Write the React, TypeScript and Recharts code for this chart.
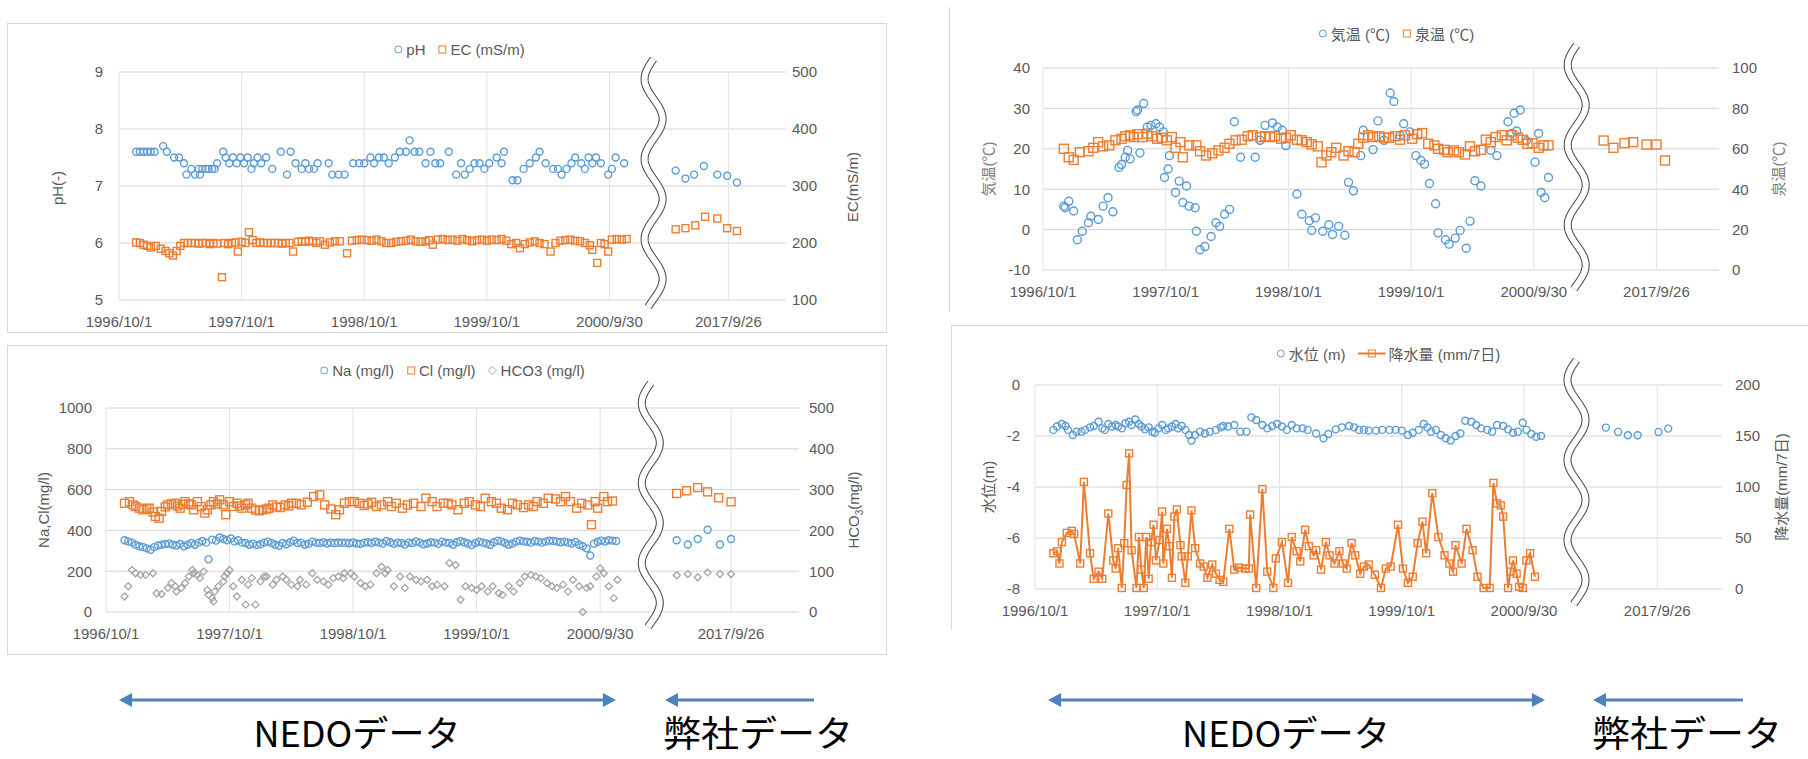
// 温泉モニタリング 4 パネル図 (NEDO データ + 弊社データ)
import { CartesianGrid, ReferenceLine, Scatter, ScatterChart, XAxis, YAxis } from 'recharts'

type Pt = [number, number] // [1996/10/1 からの経過年, 値]
type Shape = 'circle' | 'square' | 'diamond'

const BLUE = '#5b9bd5'
const ORANGE = '#ed7d31'
const GRAY = '#a5a5a5'
const TEXT = '#595959'
const FONT = '"Liberation Sans", "Noto Sans CJK JP", sans-serif'

// x 軸ラベル (2017 は軸の切れ目の後ろ)
const dateLabels = ['1996/10/1', '1997/10/1', '1998/10/1', '1999/10/1', '2000/9/30', '2017/9/26']

// ---- pH / EC ----
const phPts: Pt[] = [
  [0.14, 7.6], [0.17, 7.6], [0.2, 7.6], [0.23, 7.6], [0.26, 7.6], [0.29, 7.6], [0.36, 7.7], [0.39, 7.6], [0.45, 7.5],
  [0.49, 7.5], [0.53, 7.4], [0.55, 7.2], [0.59, 7.3], [0.62, 7.2], [0.65, 7.3], [0.66, 7.2], [0.68, 7.3], [0.71, 7.3],
  [0.73, 7.3], [0.76, 7.3], [0.78, 7.3], [0.8, 7.4], [0.85, 7.6], [0.87, 7.5], [0.9, 7.4], [0.93, 7.5], [0.96, 7.4],
  [0.99, 7.5], [1.02, 7.4], [1.05, 7.5], [1.08, 7.3], [1.1, 7.4], [1.13, 7.5], [1.16, 7.4], [1.2, 7.5], [1.25, 7.3],
  [1.32, 7.6], [1.37, 7.2], [1.4, 7.6], [1.44, 7.4], [1.49, 7.3], [1.52, 7.4], [1.55, 7.3], [1.59, 7.3], [1.62, 7.4],
  [1.71, 7.4], [1.74, 7.2], [1.79, 7.2], [1.84, 7.2], [1.91, 7.4], [1.96, 7.4], [2.0, 7.4], [2.05, 7.5], [2.08, 7.4],
  [2.12, 7.5], [2.16, 7.5], [2.2, 7.4], [2.25, 7.5], [2.29, 7.6], [2.34, 7.6], [2.37, 7.8], [2.41, 7.6], [2.45, 7.6],
  [2.5, 7.4], [2.54, 7.6], [2.58, 7.4], [2.62, 7.4], [2.69, 7.6], [2.75, 7.2], [2.79, 7.4], [2.82, 7.2], [2.86, 7.3],
  [2.9, 7.4], [2.94, 7.4], [2.98, 7.3], [3.02, 7.4], [3.08, 7.5], [3.12, 7.4], [3.14, 7.6], [3.21, 7.1], [3.25, 7.1],
  [3.3, 7.3], [3.35, 7.4], [3.4, 7.5], [3.43, 7.6], [3.48, 7.4], [3.54, 7.3], [3.58, 7.3], [3.61, 7.2], [3.65, 7.3],
  [3.69, 7.4], [3.72, 7.5], [3.77, 7.4], [3.8, 7.3], [3.83, 7.5], [3.86, 7.4], [3.89, 7.5], [3.93, 7.4], [3.99, 7.2],
  [4.02, 7.3], [4.05, 7.5], [4.12, 7.4],
  [4.54, 7.27], [4.62, 7.13], [4.69, 7.2], [4.77, 7.35], [4.88, 7.2], [4.96, 7.18], [5.04, 7.06],
]
const ecPts: Pt[] = [
  [0.14, 201], [0.17, 200], [0.2, 197], [0.23, 195], [0.26, 192], [0.3, 195], [0.34, 190], [0.38, 186], [0.41, 182],
  [0.44, 178], [0.47, 186], [0.5, 195], [0.53, 200], [0.56, 200], [0.59, 200], [0.62, 200], [0.65, 199], [0.68, 200],
  [0.71, 200], [0.74, 198], [0.77, 200], [0.8, 199], [0.84, 140], [0.86, 200], [0.89, 198], [0.92, 200], [0.95, 201],
  [0.97, 185], [1.0, 202], [1.03, 200], [1.06, 219], [1.09, 205], [1.12, 200], [1.15, 201], [1.18, 200], [1.21, 200],
  [1.24, 200], [1.27, 200], [1.3, 200], [1.33, 199], [1.36, 200], [1.39, 200], [1.42, 185], [1.46, 202], [1.49, 203],
  [1.52, 202], [1.55, 204], [1.58, 203], [1.61, 200], [1.64, 203], [1.68, 197], [1.72, 201], [1.76, 203], [1.8, 203],
  [1.86, 182], [1.9, 204], [1.94, 205], [1.98, 206], [2.02, 205], [2.06, 204], [2.1, 206], [2.14, 203], [2.18, 200],
  [2.22, 200], [2.26, 202], [2.3, 203], [2.34, 204], [2.38, 206], [2.42, 203], [2.46, 202], [2.5, 203], [2.53, 205],
  [2.56, 197], [2.6, 206], [2.64, 207], [2.68, 205], [2.72, 206], [2.76, 204], [2.8, 207], [2.84, 205], [2.88, 203],
  [2.92, 205], [2.96, 206], [3.0, 204], [3.04, 206], [3.08, 205], [3.12, 207], [3.16, 204], [3.2, 198], [3.24, 200],
  [3.27, 191], [3.31, 198], [3.35, 201], [3.39, 203], [3.43, 200], [3.47, 198], [3.52, 185], [3.56, 200], [3.6, 204],
  [3.64, 205], [3.68, 206], [3.72, 204], [3.76, 203], [3.8, 200], [3.84, 196], [3.86, 188], [3.9, 165], [3.93, 200],
  [3.96, 198], [3.99, 185], [4.02, 206], [4.06, 207], [4.1, 206], [4.14, 207],
  [4.54, 224], [4.62, 226], [4.7, 231], [4.78, 246], [4.88, 243], [4.96, 226], [5.04, 221],
]

// ---- 気温 / 泉温 ----
const airPts: Pt[] = [
  [0.17, 5.8], [0.18, 5.4], [0.21, 7.0], [0.25, 4.6], [0.28, -2.5], [0.32, -0.4], [0.37, 1.7], [0.39, 3.3], [0.45, 2.5],
  [0.49, 5.8], [0.53, 7.9], [0.57, 4.4], [0.62, 15.4], [0.64, 16.1], [0.67, 17.9], [0.69, 19.6], [0.71, 17.5],
  [0.76, 29.2], [0.77, 29.6], [0.79, 19], [0.82, 31.2], [0.85, 25.4], [0.88, 25.8], [0.92, 26.2], [0.95, 25.4],
  [0.98, 24.2], [0.99, 12.9], [1.02, 15], [1.03, 18.3], [1.08, 9.2], [1.11, 12], [1.14, 6.7], [1.17, 10.8], [1.19, 5.8],
  [1.24, 5.4], [1.25, -0.4], [1.28, -5], [1.32, -4.2], [1.37, -1.7], [1.41, 1.7], [1.44, 0.8], [1.48, 3.8], [1.52, 5],
  [1.56, 26.7], [1.61, 17.9], [1.73, 17.9], [1.77, 22.1], [1.81, 25.8], [1.87, 26.4], [1.91, 25.4], [1.95, 24.6],
  [1.98, 20.8], [2.07, 8.8], [2.11, 3.8], [2.17, 2.2], [2.19, -0.2], [2.22, 2.9], [2.28, -0.4], [2.33, 1.2],
  [2.36, -1.2], [2.41, 0.8], [2.46, -1.4], [2.49, 11.7], [2.53, 9.6], [2.59, 18.3], [2.61, 24.6], [2.69, 19.8],
  [2.73, 26.9], [2.78, 22.1], [2.83, 33.8], [2.86, 31.7], [2.91, 23.3], [2.94, 26.2], [2.99, 24.2], [3.04, 18.3],
  [3.08, 17.1], [3.11, 16.2], [3.15, 11.4], [3.2, 6.4], [3.22, -0.8], [3.28, -2.5], [3.31, -3.6], [3.36, -2.1],
  [3.4, -0.2], [3.45, -4.6], [3.48, 2.1], [3.52, 12.1], [3.57, 10.8], [3.65, 19.6], [3.7, 18.3], [3.79, 26.7],
  [3.82, 23.8], [3.84, 28.8], [3.86, 24.4], [3.89, 29.6], [3.94, 22], [4.01, 16.7], [4.04, 23.8], [4.06, 9.2],
  [4.09, 7.9], [4.12, 12.9],
]
const springPts: Pt[] = [
  [0.17, 60], [0.21, 55.8], [0.25, 54.5], [0.3, 58.3], [0.37, 58.8], [0.41, 60.5], [0.45, 63.3], [0.49, 61.2],
  [0.54, 61.7], [0.59, 64.2], [0.64, 65], [0.67, 66.2], [0.71, 66.7], [0.74, 65.8], [0.77, 67.2], [0.81, 65.8],
  [0.85, 67.5], [0.89, 66.2], [0.93, 65], [0.97, 65.5], [1.01, 64.2], [1.05, 65.8], [1.08, 60.5], [1.12, 63.3],
  [1.14, 55.8], [1.19, 61.7], [1.25, 61.7], [1.28, 58.8], [1.33, 56.7], [1.38, 57.8], [1.43, 59.2], [1.48, 60.5],
  [1.52, 62.5], [1.57, 64.2], [1.62, 64.5], [1.67, 66.2], [1.71, 66.7], [1.77, 65.8], [1.81, 66.2], [1.85, 65.8],
  [1.89, 66.2], [1.94, 65], [1.98, 65.5], [2.02, 66.7], [2.07, 64.5], [2.11, 64.2], [2.15, 63.3], [2.19, 62.2],
  [2.24, 61.2], [2.27, 53.3], [2.31, 56.7], [2.35, 58.3], [2.39, 60.5], [2.45, 56.7], [2.49, 58.8], [2.54, 58.3],
  [2.57, 62.5], [2.61, 65.5], [2.65, 66.7], [2.69, 65.8], [2.74, 66.2], [2.78, 65.5], [2.82, 65.5], [2.87, 66.2],
  [2.91, 64.5], [2.95, 66.7], [3.01, 65], [3.05, 67.2], [3.09, 67.8], [3.14, 62.5], [3.19, 61.7], [3.22, 60],
  [3.27, 59.5], [3.3, 58.3], [3.35, 59.2], [3.39, 58.3], [3.44, 57.2], [3.48, 61.2], [3.52, 58.8], [3.57, 59.5],
  [3.61, 64.5], [3.65, 63.3], [3.69, 65.8], [3.74, 66.7], [3.78, 64.2], [3.82, 66.7], [3.87, 65.5], [3.91, 64.5],
  [3.95, 62.5], [3.99, 62.8], [4.04, 60.5], [4.08, 61.7], [4.12, 61.7],
  [4.57, 64.1], [4.65, 60.5], [4.74, 62.8], [4.81, 63.3], [4.92, 62.1], [5.0, 62.1], [5.07, 54.2],
]

// ---- Na / Cl / HCO3 ----
const naPts: Pt[] = [
  [0.15, 352], [0.18, 346], [0.21, 340], [0.24, 330], [0.27, 322], [0.3, 318], [0.33, 312], [0.36, 305], [0.39, 318],
  [0.42, 326], [0.45, 330], [0.48, 333], [0.51, 335], [0.54, 330], [0.57, 326], [0.6, 333], [0.63, 322], [0.66, 330],
  [0.69, 338], [0.72, 330], [0.75, 340], [0.78, 348], [0.81, 340], [0.83, 258], [0.86, 355], [0.89, 350], [0.92, 365],
  [0.95, 358], [0.98, 352], [1.01, 360], [1.04, 346], [1.07, 352], [1.1, 340], [1.13, 338], [1.16, 330], [1.19, 335],
  [1.22, 328], [1.25, 332], [1.28, 340], [1.31, 345], [1.34, 338], [1.37, 330], [1.4, 325], [1.43, 338], [1.46, 332],
  [1.49, 342], [1.52, 350], [1.55, 338], [1.58, 340], [1.61, 330], [1.64, 335], [1.67, 345], [1.7, 340], [1.73, 338],
  [1.76, 342], [1.79, 336], [1.82, 340], [1.85, 338], [1.88, 341], [1.91, 339], [1.94, 340], [1.97, 337], [2.0, 341],
  [2.03, 336], [2.06, 334], [2.09, 340], [2.12, 342], [2.15, 338], [2.18, 344], [2.21, 340], [2.24, 336], [2.27, 348],
  [2.3, 342], [2.33, 334], [2.36, 340], [2.39, 338], [2.42, 331], [2.45, 340], [2.48, 338], [2.51, 346], [2.54, 340],
  [2.57, 332], [2.6, 336], [2.63, 342], [2.66, 340], [2.69, 334], [2.72, 345], [2.75, 340], [2.78, 338], [2.81, 330],
  [2.84, 342], [2.87, 348], [2.9, 342], [2.93, 336], [2.96, 328], [2.99, 338], [3.02, 344], [3.05, 340], [3.08, 336],
  [3.11, 330], [3.14, 342], [3.17, 350], [3.2, 346], [3.23, 338], [3.26, 330], [3.29, 336], [3.32, 345], [3.35, 350],
  [3.38, 346], [3.41, 344], [3.44, 340], [3.47, 348], [3.5, 345], [3.53, 340], [3.56, 345], [3.59, 350], [3.62, 348],
  [3.65, 346], [3.68, 342], [3.71, 345], [3.74, 340], [3.77, 336], [3.8, 343], [3.83, 330], [3.86, 322], [3.89, 312],
  [3.92, 277], [3.95, 335], [3.98, 344], [4.01, 350], [4.04, 345], [4.07, 352], [4.1, 350], [4.13, 348],
  [4.62, 352], [4.71, 331], [4.79, 358], [4.87, 403], [4.97, 331], [5.06, 358],
]
const clPts: Pt[] = [
  [0.15, 533], [0.19, 541], [0.22, 525], [0.24, 517], [0.27, 509], [0.3, 501], [0.33, 505], [0.35, 509], [0.38, 490],
  [0.4, 468], [0.43, 460], [0.45, 493], [0.48, 515], [0.5, 525], [0.53, 530], [0.56, 533], [0.58, 520], [0.6, 509],
  [0.62, 528], [0.64, 541], [0.67, 530], [0.69, 525], [0.71, 501], [0.74, 541], [0.77, 517], [0.8, 485], [0.82, 501],
  [0.85, 525], [0.87, 541], [0.9, 530], [0.92, 550], [0.95, 525], [0.97, 477], [1.0, 541], [1.03, 517], [1.06, 533],
  [1.08, 520], [1.1, 509], [1.13, 525], [1.15, 533], [1.18, 509], [1.21, 500], [1.24, 496], [1.27, 501], [1.3, 505],
  [1.32, 509], [1.35, 525], [1.38, 515], [1.41, 512], [1.45, 525], [1.48, 520], [1.5, 533], [1.54, 533], [1.58, 525],
  [1.63, 538], [1.68, 566], [1.73, 574], [1.77, 525], [1.82, 505], [1.86, 477], [1.89, 501], [1.93, 533], [1.97, 541],
  [2.01, 541], [2.05, 533], [2.09, 522], [2.12, 530], [2.15, 538], [2.19, 517], [2.23, 525], [2.28, 541], [2.31, 517],
  [2.35, 533], [2.4, 509], [2.44, 525], [2.49, 533], [2.55, 517], [2.59, 558], [2.64, 541], [2.68, 517], [2.73, 533],
  [2.77, 533], [2.8, 525], [2.85, 501], [2.9, 533], [2.94, 541], [2.99, 525], [3.03, 517], [3.07, 558], [3.12, 541],
  [3.16, 533], [3.2, 509], [3.25, 501], [3.29, 533], [3.33, 525], [3.38, 512], [3.42, 525], [3.46, 517], [3.49, 541],
  [3.54, 533], [3.58, 558], [3.64, 554], [3.68, 541], [3.72, 566], [3.76, 541], [3.81, 509], [3.85, 533], [3.9, 525],
  [3.93, 428], [3.96, 541], [3.98, 509], [4.03, 566], [4.06, 541], [4.1, 544],
  [4.62, 581], [4.7, 594], [4.79, 610], [4.87, 589], [4.96, 560], [5.06, 540],
]
const hco3Pts: Pt[] = [
  [0.15, 38], [0.18, 63], [0.21, 103], [0.24, 95], [0.28, 91], [0.32, 91], [0.38, 95], [0.41, 46], [0.45, 44],
  [0.5, 59], [0.53, 71], [0.56, 63], [0.57, 50], [0.61, 59], [0.64, 71], [0.67, 87], [0.7, 103], [0.71, 95], [0.74, 91],
  [0.76, 83], [0.79, 99], [0.82, 54], [0.83, 42], [0.86, 34], [0.87, 26], [0.88, 50], [0.91, 63], [0.95, 75], [0.96, 87],
  [0.98, 95], [1.0, 103], [1.03, 63], [1.06, 38], [1.1, 79], [1.13, 18], [1.15, 67], [1.18, 83], [1.21, 18], [1.25, 75],
  [1.28, 87], [1.3, 87], [1.35, 67], [1.38, 79], [1.43, 87], [1.46, 79], [1.5, 67], [1.55, 63], [1.57, 79], [1.62, 67],
  [1.67, 95], [1.71, 79], [1.76, 75], [1.8, 67], [1.84, 83], [1.88, 87], [1.92, 83], [1.93, 95], [1.98, 95], [2.01, 87],
  [2.06, 71], [2.1, 63], [2.14, 67], [2.19, 95], [2.23, 111], [2.26, 95], [2.28, 103], [2.33, 63], [2.38, 87],
  [2.42, 59], [2.46, 87], [2.51, 79], [2.55, 75], [2.6, 79], [2.64, 63], [2.68, 67], [2.74, 63], [2.78, 120],
  [2.83, 115], [2.87, 30], [2.91, 63], [2.96, 59], [3.0, 54], [3.04, 63], [3.09, 50], [3.13, 63], [3.18, 46],
  [3.21, 42], [3.26, 63], [3.3, 50], [3.35, 71], [3.39, 87], [3.44, 91], [3.48, 87], [3.52, 83], [3.57, 71], [3.61, 63],
  [3.65, 59], [3.7, 67], [3.74, 50], [3.78, 79], [3.83, 63], [3.86, 0], [3.89, 59], [3.92, 63], [3.97, 87], [4.0, 107],
  [4.03, 95], [4.07, 63], [4.11, 34], [4.14, 79],
  [4.62, 90], [4.71, 93], [4.79, 85], [4.87, 97], [4.97, 93], [5.06, 93],
]

// ---- 水位 / 降水量 ----
const levelPts: Pt[] = [
  [0.15, -1.76], [0.18, -1.63], [0.22, -1.53], [0.25, -1.61], [0.27, -1.76], [0.31, -1.96], [0.34, -1.83],
  [0.38, -1.83], [0.41, -1.76], [0.45, -1.66], [0.48, -1.61], [0.52, -1.44], [0.55, -1.7], [0.57, -1.76],
  [0.6, -1.53], [0.63, -1.63], [0.66, -1.57], [0.68, -1.63], [0.71, -1.7], [0.74, -1.5], [0.77, -1.44], [0.79, -1.57],
  [0.82, -1.35], [0.85, -1.53], [0.87, -1.63], [0.9, -1.74], [0.93, -1.66], [0.96, -1.83], [0.98, -1.87], [1.01, -1.7],
  [1.04, -1.57], [1.07, -1.76], [1.09, -1.7], [1.12, -1.63], [1.15, -1.53], [1.17, -1.7], [1.2, -1.61], [1.23, -1.76],
  [1.26, -1.96], [1.28, -2.18], [1.31, -1.96], [1.35, -1.83], [1.39, -1.9], [1.43, -1.83], [1.48, -1.76],
  [1.52, -1.66], [1.54, -1.61], [1.58, -1.63], [1.63, -1.57], [1.68, -1.83], [1.73, -1.83], [1.77, -1.27],
  [1.81, -1.37], [1.86, -1.57], [1.9, -1.7], [1.94, -1.61], [1.98, -1.53], [2.02, -1.63], [2.06, -1.76],
  [2.1, -1.57], [2.14, -1.7], [2.19, -1.7], [2.23, -1.76], [2.3, -1.9], [2.36, -2.09], [2.4, -1.92], [2.46, -1.74],
  [2.51, -1.66], [2.57, -1.61], [2.61, -1.66], [2.65, -1.76], [2.69, -1.76], [2.73, -1.79], [2.79, -1.79],
  [2.84, -1.76], [2.9, -1.76], [2.95, -1.76], [3.0, -1.79], [3.05, -1.96], [3.09, -1.87], [3.14, -1.76],
  [3.18, -1.53], [3.21, -1.66], [3.24, -1.83], [3.28, -1.76], [3.32, -1.96], [3.36, -2.09], [3.4, -2.18], [3.44, -2.0],
  [3.48, -1.9], [3.52, -1.4], [3.57, -1.44], [3.61, -1.57], [3.65, -1.7], [3.7, -1.76], [3.74, -1.83], [3.78, -1.57],
  [3.83, -1.61], [3.87, -1.74], [3.91, -1.87], [3.95, -1.83], [3.99, -1.48], [4.02, -1.76], [4.06, -1.92],
  [4.1, -2.03], [4.14, -2.0],
  [4.67, -1.67], [4.77, -1.84], [4.85, -1.97], [4.93, -1.97], [5.1, -1.84], [5.18, -1.71],
]
const rainPts: Pt[] = [
  [0.15, 35], [0.18, 37], [0.2, 25], [0.22, 46], [0.26, 55], [0.3, 57], [0.32, 54], [0.37, 25], [0.4, 105], [0.45, 35],
  [0.48, 10], [0.52, 17], [0.55, 10], [0.6, 74], [0.64, 28], [0.66, 20], [0.68, 40], [0.71, 1], [0.73, 45], [0.75, 102],
  [0.77, 133], [0.79, 38], [0.83, 1], [0.85, 51], [0.87, 19], [0.89, 1], [0.91, 51], [0.93, 10], [0.95, 46], [0.97, 63],
  [0.99, 28], [1.02, 48], [1.04, 76], [1.05, 25], [1.08, 59], [1.1, 42], [1.12, 11], [1.14, 71], [1.16, 78], [1.19, 43],
  [1.2, 32], [1.23, 6], [1.25, 32], [1.28, 77], [1.31, 40], [1.35, 25], [1.38, 22], [1.41, 11], [1.45, 24], [1.48, 15],
  [1.51, 9], [1.54, 7], [1.59, 59], [1.63, 19], [1.67, 21], [1.72, 20], [1.75, 20], [1.76, 73], [1.81, 1], [1.86, 98],
  [1.9, 17], [1.95, 1], [1.97, 30], [2.02, 46], [2.07, 6], [2.1, 51], [2.14, 37], [2.17, 27], [2.21, 58], [2.24, 42],
  [2.28, 33], [2.3, 38], [2.34, 19], [2.38, 46], [2.41, 33], [2.45, 25], [2.49, 37], [2.52, 25], [2.55, 20], [2.59, 45],
  [2.62, 33], [2.66, 15], [2.69, 22], [2.73, 24], [2.78, 14], [2.83, 1], [2.87, 20], [2.91, 22], [2.97, 63], [3.01, 20],
  [3.05, 6], [3.09, 12], [3.13, 45], [3.17, 66], [3.2, 35], [3.25, 94], [3.3, 51], [3.35, 33], [3.39, 25], [3.42, 17],
  [3.44, 43], [3.49, 25], [3.53, 59], [3.58, 38], [3.62, 12], [3.67, 1], [3.72, 1], [3.75, 104], [3.78, 84], [3.81, 82],
  [3.83, 71], [3.87, 1], [3.89, 17], [3.91, 28], [3.94, 15], [3.96, 2], [3.99, 1], [4.02, 28], [4.05, 35], [4.09, 12],
]

// ---------------------------------------------------------------------------

// 中抜きマーカー (Excel の枠線のみマーカー)
function marker(shape: Shape, color: string, r: number) {
  return (p: any) => {
    const { cx, cy } = p
    if (cx == null || cy == null) return <g />
    if (shape === 'circle') return <circle cx={cx} cy={cy} r={r} fill="none" stroke={color} strokeWidth={1.4} />
    if (shape === 'square')
      return <rect x={cx - r} y={cy - r} width={2 * r} height={2 * r} fill="none" stroke={color} strokeWidth={1.4} />
    return (
      <path d={`M${cx},${cy - r}L${cx + r},${cy}L${cx},${cy + r}L${cx - r},${cy}Z`} fill="none" stroke={color} strokeWidth={1.3} />
    )
  }
}

// 軸の切れ目 (白抜きの波線)
function wavyBreak(up: number, down: number) {
  return (p: any) => {
    const x = p.x1
    const top = Math.min(p.y1, p.y2) - up
    const bottom = Math.max(p.y1, p.y2) + down
    const pts: string[] = []
    for (let y = top; y <= bottom; y += 2) pts.push(`${(x - 9 * Math.sin(((y - top) / 40) * Math.PI)).toFixed(1)},${y}`)
    const d = 'M' + pts.join('L')
    return (
      <g>
        <path d={d} fill="none" stroke="#444" strokeWidth={8} />
        <path d={d} fill="none" stroke="#fff" strokeWidth={6} />
      </g>
    )
  }
}

interface Series {
  pts: Pt[]
  axis: 'l' | 'r'
  shape: Shape
  color: string
  r: number
  line?: boolean
}

interface PanelProps {
  left: number
  top: number
  width: number
  height: number
  plotTop: number
  leftW: number
  rightW: number
  bottomH: number
  xMax: number
  xTicks: number[]
  lDomain: [number, number]
  lTicks: number[]
  lGap: number
  rDomain: [number, number]
  rTicks: number[]
  rGap: number
  series: Series[]
  breakX: number
  breakUp: number
  breakDown: number
}

const tickStyle = { fill: TEXT, fontSize: 15, fontFamily: FONT }

function Panel(p: PanelProps) {
  return (
    <div style={{ position: 'absolute', left: p.left, top: p.top }}>
      <ScatterChart width={p.width} height={p.height} margin={{ top: p.plotTop, right: 0, bottom: 0, left: 0 }}>
        <CartesianGrid yAxisId="l" vertical={false} stroke="#d6d6d6" syncWithTicks />
        <CartesianGrid yAxisId="l" horizontal={false} stroke="#e2e2e2" syncWithTicks />
        <XAxis
          type="number"
          dataKey="x"
          domain={[0, p.xMax]}
          ticks={p.xTicks}
          interval={0}
          tickFormatter={(v: number) => dateLabels[p.xTicks.indexOf(v)]}
          height={p.bottomH}
          axisLine={false}
          tickLine={false}
          tickSize={0}
          tickMargin={16}
          tick={tickStyle}
        />
        <YAxis
          yAxisId="l"
          type="number"
          dataKey="y"
          domain={p.lDomain}
          ticks={p.lTicks}
          interval={0}
          width={p.leftW}
          axisLine={false}
          tickLine={false}
          tickSize={0}
          tickMargin={p.lGap}
          tick={tickStyle}
        />
        <YAxis
          yAxisId="r"
          orientation="right"
          type="number"
          dataKey="y"
          domain={p.rDomain}
          ticks={p.rTicks}
          interval={0}
          width={p.rightW}
          axisLine={false}
          tickLine={false}
          tickSize={0}
          tickMargin={p.rGap}
          tick={tickStyle}
        />
        {p.series.map((s, i) => (
          <Scatter
            key={i}
            yAxisId={s.axis}
            data={s.pts.map(([x, y]) => ({ x, y }))}
            fill={s.color}
            shape={marker(s.shape, s.color, s.r)}
            line={s.line ? { stroke: s.color, strokeWidth: 2 } : false}
            isAnimationActive={false}
          />
        ))}
        <ReferenceLine yAxisId="l" x={p.breakX} shape={wavyBreak(p.breakUp, p.breakDown)} />
      </ScatterChart>
    </div>
  )
}

interface LegendItem {
  label: string
  shape: Shape
  color: string
  line?: boolean
}

function LegendRow({ cx, cy, items }: { cx: number; cy: number; items: LegendItem[] }) {
  return (
    <div
      style={{
        position: 'absolute', left: cx, top: cy, transform: 'translate(-50%, -50%)', display: 'flex',
        alignItems: 'center', gap: 12, whiteSpace: 'nowrap', fontSize: 15, color: TEXT,
      }}
    >
      {items.map((it, i) => {
        const w = it.line ? 28 : 10
        const m = w / 2
        return (
          <span key={i} style={{ display: 'flex', alignItems: 'center', gap: 3 }}>
            <svg width={w} height={10}>
              {it.line && <line x1={0} y1={5} x2={w} y2={5} stroke={it.color} strokeWidth={2} />}
              {it.shape === 'circle' && <circle cx={m} cy={5} r={3.5} fill="none" stroke={it.color} />}
              {it.shape === 'square' && <rect x={m - 3.5} y={1.5} width={7} height={7} fill="none" stroke={it.color} />}
              {it.shape === 'diamond' && <path d={`M${m},1L${m + 4},5L${m},9L${m - 4},5Z`} fill="none" stroke={it.color} />}
            </svg>
            {it.label}
          </span>
        )
      })}
    </div>
  )
}

function AxisTitle({ cx, cy, children, color = TEXT }: { cx: number; cy: number; children: any; color?: string }) {
  return (
    <div
      style={{
        position: 'absolute', left: cx, top: cy, transform: 'translate(-50%, -50%) rotate(-90deg)',
        whiteSpace: 'nowrap', fontSize: 15, color,
      }}
    >
      {children}
    </div>
  )
}

const frame = { position: 'absolute' as const, border: '1px solid #d9d9d9', boxSizing: 'border-box' as const }

function Arrow({ x1, x2, y, both }: { x1: number; x2: number; y: number; both: boolean }) {
  const c = '#4f81bd'
  return (
    <g>
      <line x1={x1 + 10} y1={y} x2={both ? x2 - 10 : x2} y2={y} stroke={c} strokeWidth={3} />
      <path d={`M${x1},${y}L${x1 + 13},${y - 7}L${x1 + 13},${y + 7}Z`} fill={c} />
      {both && <path d={`M${x2},${y}L${x2 - 13},${y - 7}L${x2 - 13},${y + 7}Z`} fill={c} />}
    </g>
  )
}

export default function App() {
  return (
    <div
      style={{ position: 'absolute', left: 0, top: 0, width: 1808, height: 759, background: '#fff', fontFamily: FONT, overflow: 'hidden' }}
    >
      {/* パネル枠 */}
      <div style={{ ...frame, left: 7, top: 23, width: 880, height: 310 }} />
      <div style={{ ...frame, left: 7, top: 345, width: 880, height: 310 }} />
      <div style={{ position: 'absolute', left: 949, top: 7, width: 1, height: 305, background: '#d9d9d9' }} />
      <div style={{ position: 'absolute', left: 951, top: 325, width: 857, height: 1, background: '#d9d9d9' }} />
      <div style={{ position: 'absolute', left: 951, top: 325, width: 1, height: 305, background: '#d9d9d9' }} />

      {/* pH / EC */}
      <Panel
        left={7} top={23} width={880} height={310} plotTop={49} leftW={112} rightW={101} bottomH={33}
        xMax={5.44} xTicks={[0, 1, 2, 3, 4, 4.97]}
        lDomain={[5, 9]} lTicks={[5, 6, 7, 8, 9]} lGap={16}
        rDomain={[100, 500]} rTicks={[100, 200, 300, 400, 500]} rGap={6}
        series={[
          { pts: phPts, axis: 'l', shape: 'circle', color: BLUE, r: 3.5 },
          { pts: ecPts, axis: 'r', shape: 'square', color: ORANGE, r: 3.5 },
        ]}
        breakX={4.36} breakUp={13} breakDown={7}
      />
      <LegendRow cx={459} cy={49} items={[
        { label: 'pH', shape: 'circle', color: BLUE },
        { label: 'EC (mS/m)', shape: 'square', color: ORANGE },
      ]} />
      <AxisTitle cx={57} cy={188}>pH(-)</AxisTitle>
      <AxisTitle cx={852} cy={187}>EC(mS/m)</AxisTitle>

      {/* 気温 / 泉温 */}
      <Panel
        left={949} top={0} width={859} height={330} plotTop={68} leftW={94} rightW={89} bottomH={60}
        xMax={5.51} xTicks={[0, 1, 2, 3, 4, 5]}
        lDomain={[-10, 40]} lTicks={[-10, 0, 10, 20, 30, 40]} lGap={13}
        rDomain={[0, 100]} rTicks={[0, 20, 40, 60, 80, 100]} rGap={13}
        series={[
          { pts: airPts, axis: 'l', shape: 'circle', color: BLUE, r: 4 },
          { pts: springPts, axis: 'r', shape: 'square', color: ORANGE, r: 4.5 },
        ]}
        breakX={4.35} breakUp={23} breakDown={20}
      />
      <LegendRow cx={1396} cy={33} items={[
        { label: '気温 (℃)', shape: 'circle', color: BLUE },
        { label: '泉温 (℃)', shape: 'square', color: ORANGE },
      ]} />
      <AxisTitle cx={987} cy={169} color="#808080">気温(℃)</AxisTitle>
      <AxisTitle cx={1777} cy={169} color="#808080">泉温(℃)</AxisTitle>

      {/* Na / Cl / HCO3 */}
      <Panel
        left={7} top={345} width={880} height={310} plotTop={63} leftW={99} rightW={88} bottomH={43}
        xMax={5.61} xTicks={[0, 1, 2, 3, 4, 5.06]}
        lDomain={[0, 1000]} lTicks={[0, 200, 400, 600, 800, 1000]} lGap={14}
        rDomain={[0, 500]} rTicks={[0, 100, 200, 300, 400, 500]} rGap={10}
        series={[
          { pts: hco3Pts, axis: 'r', shape: 'diamond', color: GRAY, r: 3.5 },
          { pts: naPts, axis: 'l', shape: 'circle', color: BLUE, r: 3.5 },
          { pts: clPts, axis: 'l', shape: 'square', color: ORANGE, r: 4 },
        ]}
        breakX={4.41} breakUp={25} breakDown={15}
      />
      <LegendRow cx={452} cy={370} items={[
        { label: 'Na (mg/l)', shape: 'circle', color: BLUE },
        { label: 'Cl (mg/l)', shape: 'square', color: ORANGE },
        { label: 'HCO3 (mg/l)', shape: 'diamond', color: GRAY },
      ]} />
      <AxisTitle cx={43} cy={510}>Na,Cl(mg/l)</AxisTitle>
      <AxisTitle cx={855} cy={510}>
        HCO<span style={{ fontSize: 10, verticalAlign: 'sub' }}>3</span>(mg/l)
      </AxisTitle>

      {/* 水位 / 降水量 */}
      <Panel
        left={951} top={325} width={857} height={310} plotTop={60} leftW={84} rightW={86} bottomH={46}
        xMax={5.62} xTicks={[0, 1, 2, 3, 4, 5.09]}
        lDomain={[-8, 0]} lTicks={[-8, -6, -4, -2, 0]} lGap={15}
        rDomain={[0, 200]} rTicks={[0, 50, 100, 150, 200]} rGap={13}
        series={[
          { pts: levelPts, axis: 'l', shape: 'circle', color: BLUE, r: 3.5 },
          { pts: rainPts, axis: 'r', shape: 'square', color: ORANGE, r: 3.5, line: true },
        ]}
        breakX={4.43} breakUp={25} breakDown={16}
      />
      <LegendRow cx={1388} cy={353} items={[
        { label: '水位 (m)', shape: 'circle', color: BLUE },
        { label: '降水量 (mm/7日)', shape: 'square', color: ORANGE, line: true },
      ]} />
      <AxisTitle cx={987} cy={487}>水位(m)</AxisTitle>
      <AxisTitle cx={1780} cy={487}>降水量(mm/7日)</AxisTitle>

      {/* データ区分の注記 */}
      <svg width={1808} height={759} style={{ position: 'absolute', left: 0, top: 0, pointerEvents: 'none' }}>
        <Arrow x1={119} x2={616} y={700} both />
        <Arrow x1={665} x2={814} y={700} both={false} />
        <Arrow x1={1048} x2={1545} y={700} both />
        <Arrow x1={1593} x2={1743} y={700} both={false} />
        <g fontFamily='"Noto Sans CJK JP", sans-serif' fontSize={36} fill="#000" textAnchor="middle">
          <text x={357} y={747} textLength={207} lengthAdjust="spacingAndGlyphs">NEDOデータ</text>
          <text x={758} y={747} textLength={190} lengthAdjust="spacingAndGlyphs">弊社データ</text>
          <text x={1286} y={747} textLength={208} lengthAdjust="spacingAndGlyphs">NEDOデータ</text>
          <text x={1687} y={747} textLength={190} lengthAdjust="spacingAndGlyphs">弊社データ</text>
        </g>
      </svg>
    </div>
  )
}
